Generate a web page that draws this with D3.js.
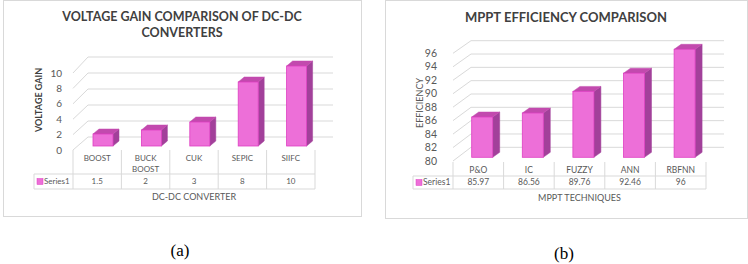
<!DOCTYPE html>
<html>
<head>
<meta charset="utf-8">
<script src="https://cdn.jsdelivr.net/npm/d3@7"></script>
<style>
  body { margin: 0; background: #fff; }
  text { font-family: Lato, "Open Sans", sans-serif; fill: #595959; }
</style>
</head>
<body>
<svg id="chart" width="748" height="264"></svg>
<script>
// data for both charts
const convCategories = [['BOOST'], ['BUCK', 'BOOST'], ['CUK'], ['SEPIC'], ['SIIFC']];
const convValues = [1.5, 2, 3, 8, 10];
const convValueLabels = ['1.5', '2', '3', '8', '10'];
const convTicks = [0, 2, 4, 6, 8, 10];

const mpptCategories = [['P&O'], ['IC'], ['FUZZY'], ['ANN'], ['RBFNN']];
const mpptValues = [85.97, 86.56, 89.76, 92.46, 96];
const mpptValueLabels = ['85.97', '86.56', '89.76', '92.46', '96'];
const mpptTicks = [80, 82, 84, 86, 88, 90, 92, 94, 96];

const svg = d3.select('#chart');

const grid = '#d9d9d9';
const frontFill = '#ed6fd8', frontStroke = '#de3fc2';
const topFill = '#c24aae', sideFill = '#a2409a';

const drawPanel = (p) => {
  const g = svg.append('g');

  // panel border
  g.append('rect')
    .attr('x', p.box[0] + 0.5).attr('y', p.box[1] + 0.5)
    .attr('width', p.box[2]).attr('height', p.box[3])
    .attr('fill', '#fff').attr('stroke', grid);

  // title
  p.title.forEach((t, i) => {
    g.append('text')
      .attr('x', p.titleX).attr('y', p.titleY + i * 16)
      .attr('text-anchor', 'middle').attr('dy', '0.35em')
      .attr('font-weight', 'bold').attr('font-size', p.titleSize)
      .style('fill', '#404040')
      .text(t);
  });

  const names = p.cats.map((c, i) => i);
  const x = d3.scaleBand().domain(names).range(p.colRange).padding(0);
  const yFront = d3.scaleLinear().domain(p.domain).range(p.frontRange);
  const yBack = d3.scaleLinear().domain(p.domain).range(p.backRange);
  const yLeft = d3.scaleLinear().domain(p.domain).range(p.leftRange);

  // back wall and left wall gridlines
  p.ticks.forEach(v => {
    g.append('line')
      .attr('x1', p.backX[0]).attr('x2', p.backX[1])
      .attr('y1', yBack(v)).attr('y2', yBack(v))
      .attr('stroke', grid);
    g.append('line')
      .attr('x1', p.colRange[0]).attr('x2', p.backX[0])
      .attr('y1', yLeft(v)).attr('y2', yBack(v))
      .attr('stroke', grid);
    g.append('text')
      .attr('x', p.tickX).attr('y', yLeft(v))
      .attr('dy', '0.35em').attr('text-anchor', 'end')
      .attr('font-size', p.tickSize)
      .text(v);
  });

  // 3d bars
  const bars = g.selectAll('g.bar')
    .data(p.values)
    .enter().append('g').attr('class', 'bar');

  const bx = (d, i) => x(i) + p.barOffset;
  const base = yFront(p.domain[0]);
  const [dx, dy] = p.depth;

  bars.append('path')
    .attr('fill', sideFill).attr('stroke', sideFill).attr('stroke-width', 0.5)
    .attr('d', (d, i) => {
      const x1 = bx(d, i) + p.barWidth, yt = yFront(d);
      return `M${x1},${yt}L${x1 + dx},${yt + dy}L${x1 + dx},${base + dy}L${x1},${base}Z`;
    });
  bars.append('path')
    .attr('fill', topFill).attr('stroke', topFill).attr('stroke-width', 0.5)
    .attr('d', (d, i) => {
      const x0 = bx(d, i), x1 = x0 + p.barWidth, yt = yFront(d);
      return `M${x0},${yt}L${x0 + dx},${yt + dy}L${x1 + dx},${yt + dy}L${x1},${yt}Z`;
    });
  bars.append('rect')
    .attr('x', bx)
    .attr('y', d => yFront(d))
    .attr('width', p.barWidth)
    .attr('height', d => base - yFront(d))
    .attr('fill', frontFill).attr('stroke', frontStroke).attr('stroke-width', 0.8);

  // data table
  const [c0, c1] = p.colRange;
  x.domain().concat([null]).forEach((d, i) => {
    const xx = d === null ? c1 : x(d);
    g.append('line')
      .attr('x1', xx).attr('x2', xx)
      .attr('y1', p.tableTop).attr('y2', p.rowBottom)
      .attr('stroke', grid);
  });
  [p.rowTop, p.rowBottom].forEach(yy => {
    g.append('line')
      .attr('x1', p.seriesLeft).attr('x2', c1)
      .attr('y1', yy).attr('y2', yy)
      .attr('stroke', grid);
  });
  g.append('line')
    .attr('x1', p.seriesLeft).attr('x2', p.seriesLeft)
    .attr('y1', p.rowTop).attr('y2', p.rowBottom)
    .attr('stroke', grid);

  p.cats.forEach((lines, i) => {
    lines.forEach((t, j) => {
      g.append('text')
        .attr('x', x(i) + x.bandwidth() / 2)
        .attr('y', p.catY + j * 11)
        .attr('dy', '0.35em').attr('text-anchor', 'middle')
        .attr('font-size', p.tableSize)
        .text(t);
    });
    g.append('text')
      .attr('x', x(i) + x.bandwidth() / 2)
      .attr('y', (p.rowTop + p.rowBottom) / 2)
      .attr('dy', '0.35em').attr('text-anchor', 'middle')
      .attr('font-size', p.tableSize)
      .text(p.valueLabels[i]);
  });

  // legend key in table
  const rowMid = (p.rowTop + p.rowBottom) / 2;
  g.append('rect')
    .attr('x', p.seriesLeft + 3).attr('y', rowMid - 3)
    .attr('width', 6).attr('height', 6)
    .attr('fill', frontFill).attr('stroke', frontStroke).attr('stroke-width', 0.5);
  g.append('text')
    .attr('x', p.seriesLeft + 10).attr('y', rowMid)
    .attr('dy', '0.35em')
    .attr('font-size', p.tableSize)
    .text('Series1');

  // axis titles
  g.append('text')
    .attr('x', (c0 + c1) / 2).attr('y', p.xTitleY)
    .attr('dy', '0.35em').attr('text-anchor', 'middle')
    .attr('font-size', p.axisSize)
    .text(p.xTitle);
  g.append('text')
    .attr('transform', `translate(${p.yTitlePos[0]},${p.yTitlePos[1]}) rotate(-90)`)
    .attr('dy', '0.35em').attr('text-anchor', 'middle')
    .attr('font-size', p.axisSize)
    .attr('font-weight', p.yTitleBold ? 'bold' : 'normal')
    .style('fill', p.yTitleBold ? '#404040' : '#595959')
    .text(p.yTitle);

  // caption
  svg.append('text')
    .attr('x', p.caption[1]).attr('y', p.caption[2])
    .attr('dy', '0.35em').attr('text-anchor', 'middle')
    .attr('font-size', 17)
    .style('font-family', '"Liberation Serif", serif').style('fill', '#000')
    .text(p.caption[0]);
};

drawPanel({
  box: [3, 0, 358, 216],
  title: ['VOLTAGE GAIN COMPARISON OF DC-DC', 'CONVERTERS'],
  titleX: 182, titleY: 17, titleSize: 12.5,
  cats: convCategories, values: convValues, valueLabels: convValueLabels,
  ticks: convTicks, domain: [0, 10],
  colRange: [73, 315],
  frontRange: [146, 66], backRange: [137, 57], leftRange: [150, 73],
  backX: [88, 333],
  tickX: 62, tickSize: 10,
  barWidth: 20, barOffset: 20, depth: [6, -5],
  tableTop: 150, rowTop: 174, rowBottom: 189, seriesLeft: 34,
  catY: 158, tableSize: 8,
  xTitle: 'DC-DC CONVERTER', xTitleY: 197, axisSize: 9,
  yTitle: 'VOLTAGE GAIN', yTitlePos: [39, 100], yTitleBold: true,
  caption: ['(a)', 180, 250]
});

drawPanel({
  box: [385, 0, 362, 218],
  title: ['MPPT EFFICIENCY COMPARISON'],
  titleX: 566, titleY: 17, titleSize: 13,
  cats: mpptCategories, values: mpptValues, valueLabels: mpptValueLabels,
  ticks: mpptTicks, domain: [80, 96],
  colRange: [453, 706],
  frontRange: [157.3, 49.3], backRange: [147.3, 40.7], leftRange: [161, 53.3],
  backX: [471, 724],
  tickX: 437, tickSize: 10.5,
  barWidth: 21, barOffset: 18.7, depth: [7, -5],
  tableTop: 162, rowTop: 176, rowBottom: 189, seriesLeft: 413,
  catY: 170, tableSize: 8.5,
  xTitle: 'MPPT TECHNIQUES', xTitleY: 198, axisSize: 9,
  yTitle: 'EFFICIENCY', yTitlePos: [420, 103], yTitleBold: false,
  caption: ['(b)', 564, 253]
});
</script>
</body>
</html>
